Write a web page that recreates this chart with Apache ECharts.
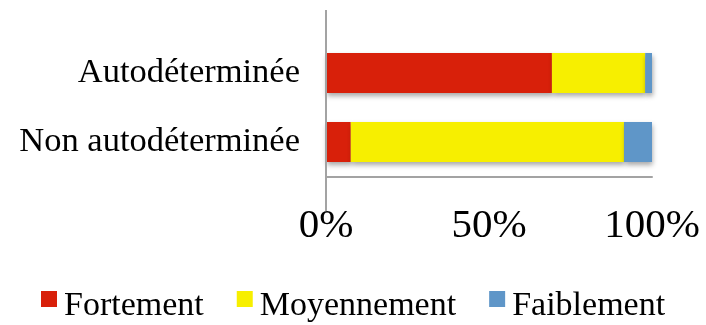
<!DOCTYPE html>
<html>
<head>
<meta charset="utf-8">
<script src="https://cdn.jsdelivr.net/npm/echarts@6/dist/echarts.min.js"></script>
<style>
  html, body { margin: 0; padding: 0; background: #ffffff; }
  #chart { width: 706px; height: 325px; }
</style>
</head>
<body>
<div id="chart"></div>
<script>
// Share of each level, per group (percent)
const categories = ['Non autodéterminée', 'Autodéterminée'];
const fortement = [7.6, 69.3];
const moyennement = [83.8, 28.6];
const faiblement = [8.6, 2.1];
const tickValues = [0, 50, 100];

const seriesNames = ['Fortement', 'Moyennement', 'Faiblement'];
const seriesColors = ['#D8200A', '#F7EF00', '#5F96C8'];
const seriesData = [fortement, moyennement, faiblement];

const serif = 'Liberation Serif, Times New Roman, serif';
const axisGray = '#A3A3A3';

const chart = echarts.init(document.getElementById('chart'), null, { renderer: 'canvas' });

const option = {
  animation: false,
  backgroundColor: '#ffffff',
  grid: { left: 326, right: 54, top: 38.5, height: 138, containLabel: false },
  xAxis: {
    type: 'value',
    min: 0,
    max: 100,
    interval: 50,
    axisLine: { show: true, lineStyle: { color: axisGray, width: 2 } },
    axisTick: { show: false },
    splitLine: { show: false },
    axisLabel: {
      margin: 29,
      fontFamily: serif,
      fontSize: 41,
      color: '#000',
      formatter: v => (tickValues.indexOf(v) >= 0 ? v + '%' : '')
    }
  },
  yAxis: {
    type: 'category',
    data: categories,
    axisLine: { show: false },
    axisTick: { show: false },
    axisLabel: {
      margin: 26,
      fontFamily: serif,
      fontSize: 34.5,
      color: '#000'
    }
  },
  legend: {
    left: 41,
    top: 289,
    padding: 0,
    itemWidth: 16,
    itemHeight: 16,
    itemGap: 33,
    icon: 'rect',
    formatter: '{t|{name}}',
    textStyle: {
      fontFamily: serif,
      fontSize: 34,
      color: '#000',
      rich: {
        t: { fontFamily: serif, fontSize: 34, color: '#000', padding: [14, 0, 0, 2] }
      }
    },
    data: seriesNames
  },
  series: seriesNames.map((name, i) => ({
    name,
    type: 'bar',
    stack: 'total',
    barWidth: 40,
    data: seriesData[i],
    itemStyle: {
      color: seriesColors[i],
      shadowColor: 'rgba(0,0,0,0.35)',
      shadowBlur: 5,
      shadowOffsetX: 1,
      shadowOffsetY: 3
    }
  }))
};

chart.setOption(option);

// Vertical axis line, extended above the plot area
const x0 = chart.convertToPixel({ xAxisIndex: 0 }, 0);
const yBottom = chart.convertToPixel({ yAxisIndex: 0 }, categories[0]) + 69;
chart.setOption({
  graphic: [{
    type: 'line',
    shape: { x1: x0, y1: 10, x2: x0, y2: yBottom },
    style: { stroke: axisGray, lineWidth: 2 },
    z: 10
  }]
});
</script>
</body>
</html>
